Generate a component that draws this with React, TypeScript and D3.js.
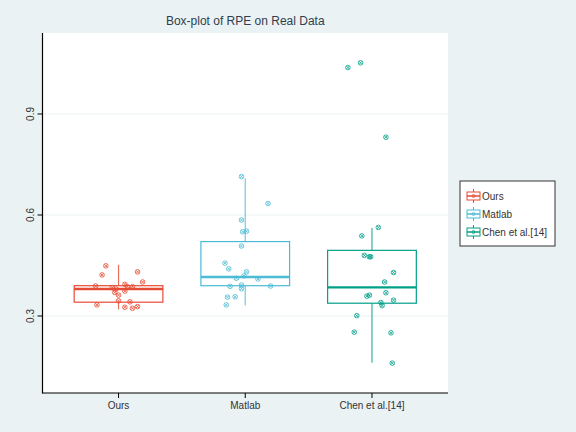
import * as d3 from 'd3';
import React from 'react';

const categories = ["Ours", "Matlab", "Chen et al.[14]"];
const colours = ["#E64B35", "#4DBBD5", "#00A087"];

// box statistics
const whiskerLow = [0.320, 0.331, 0.161];
const q1 = [0.341, 0.390, 0.338];
const median = [0.380, 0.416, 0.385];
const q3 = [0.390, 0.521, 0.495];
const whiskerHigh = [0.452, 0.709, 0.561];

// jittered points: [offset in category steps, RPE]
const oursPoints: [number, number][] = [
  [-0.10, 0.449], [-0.13, 0.422], [0.15, 0.431], [0.19, 0.401], [-0.18, 0.389],
  [-0.05, 0.384], [-0.02, 0.380], [0.05, 0.394], [0.07, 0.387], [0.11, 0.387],
  [-0.03, 0.370], [0.00, 0.362], [0.05, 0.374], [0.00, 0.345], [-0.17, 0.333],
  [0.09, 0.342], [0.05, 0.326], [0.11, 0.323], [0.15, 0.328]
];
const matlabPoints: [number, number][] = [
  [-0.03, 0.714], [0.18, 0.634], [-0.03, 0.585], [-0.02, 0.550], [0.01, 0.552],
  [-0.03, 0.508], [-0.16, 0.457], [-0.13, 0.440], [0.01, 0.431], [-0.01, 0.419],
  [-0.07, 0.412], [0.10, 0.410], [-0.03, 0.392], [-0.03, 0.381], [-0.12, 0.388],
  [0.20, 0.389], [-0.14, 0.356], [-0.08, 0.357], [-0.15, 0.333]
];
const chenPoints: [number, number][] = [
  [-0.19, 1.038], [-0.09, 1.052], [0.11, 0.831], [0.05, 0.563], [-0.08, 0.538],
  [-0.06, 0.480], [-0.02, 0.476], [-0.01, 0.476], [0.17, 0.429], [0.10, 0.401],
  [0.11, 0.369], [-0.04, 0.359], [-0.02, 0.362], [0.17, 0.347], [0.07, 0.340],
  [0.08, 0.331], [-0.12, 0.301], [-0.14, 0.252], [0.15, 0.250], [0.16, 0.160]
];
const points = [oursPoints, matlabPoints, chenPoints];
const yTicks = [0.3, 0.6, 0.9];

const W = 576, H = 432;
const left = 42.5, right = 448, top = 33, bottom = 393;
const font = "'Liberation Sans', Arial, sans-serif";

const Marker = ({cx, cy, c}: {cx: number, cy: number, c: string}) => (
  <g stroke={c} fill="none" strokeWidth={0.8}>
    <circle cx={cx} cy={cy} r={2.3} />
    <line x1={cx - 1.5} y1={cy - 1.5} x2={cx + 1.5} y2={cy + 1.5} />
    <line x1={cx - 1.5} y1={cy + 1.5} x2={cx + 1.5} y2={cy - 1.5} />
  </g>
);

export default function App() {
  const x = d3.scalePoint<string>().domain(categories).range([left, right]).padding(0.6);
  const y = d3.scaleLinear().domain([0.0713, 1.1405]).range([bottom, top]);
  const step = x.step();
  const boxW = step * 0.7;

  return (
    <svg width={W} height={H} style={{position: "absolute", left: 0, top: 0}}>
      <rect width={W} height={H} fill="#EAF2F3" />
      <rect x={left} y={top} width={right - left} height={bottom - top} fill="#ffffff" />
      {yTicks.map(t => (
        <line key={t} x1={left} x2={right} y1={y(t)} y2={y(t)} stroke="#EAF2F3" strokeWidth={1.2} />
      ))}
      <text x={(left + right) / 2} y={24.5} textAnchor="middle" fontFamily={font} fontSize={12} fill="#2e3e4e">
        Box-plot of RPE on Real Data
      </text>

      {categories.map((c, i) => {
        const cx = x(c)!;
        const col = colours[i];
        return (
          <g key={c}>
            <line x1={cx} x2={cx} y1={y(whiskerHigh[i])} y2={y(q3[i])} stroke={col} strokeOpacity={0.8} strokeWidth={1.2} />
            <line x1={cx} x2={cx} y1={y(q1[i])} y2={y(whiskerLow[i])} stroke={col} strokeOpacity={0.8} strokeWidth={1.2} />
            <rect x={cx - boxW / 2} y={y(q3[i])} width={boxW} height={y(q1[i]) - y(q3[i])}
                  fill="#ffffff" stroke={col} strokeWidth={1.2} />
            <line x1={cx - boxW / 2} x2={cx + boxW / 2} y1={y(median[i])} y2={y(median[i])} stroke={col} strokeWidth={2.4} />
            {points[i].map(([j, v], k) => (
              <Marker key={k} cx={cx + j * step} cy={y(v)} c={col} />
            ))}
          </g>
        );
      })}

      {/* axes */}
      <line x1={left} x2={left} y1={top} y2={bottom + 0.5} stroke="#000" strokeWidth={1.2} />
      <line x1={left} x2={right} y1={bottom} y2={bottom} stroke="#000" strokeWidth={1.2} />
      {yTicks.map(t => (
        <g key={t}>
          <line x1={left - 5} x2={left} y1={y(t)} y2={y(t)} stroke="#000" strokeWidth={1} />
          <text transform={`translate(${left - 9},${y(t)}) rotate(-90)`} textAnchor="middle"
                fontFamily={font} fontSize={10} fill="#333">{t.toFixed(1)}</text>
        </g>
      ))}
      {categories.map(c => (
        <g key={c}>
          <line x1={x(c)} x2={x(c)} y1={bottom} y2={bottom + 5} stroke="#000" strokeWidth={1} />
          <text x={x(c)} y={bottom + 16} textAnchor="middle" fontFamily={font} fontSize={10} fill="#333">{c}</text>
        </g>
      ))}

      {/* legend */}
      <rect x={460} y={181} width={95} height={65} fill="#ffffff" stroke="#333" strokeWidth={1} />
      {categories.map((c, i) => {
        const ly = 196 + i * 18;
        const col = colours[i];
        return (
          <g key={c}>
            <line x1={473.5} x2={473.5} y1={ly - 7} y2={ly + 7} stroke={col} strokeWidth={1} />
            <rect x={467} y={ly - 4} width={13} height={8} fill="#fff" stroke={col} strokeWidth={1} />
            <line x1={467} x2={480} y1={ly} y2={ly} stroke={col} strokeWidth={1.5} />
            <circle cx={473.5} cy={ly} r={1.5} fill="none" stroke={col} strokeWidth={0.8} />
            <text x={482} y={ly + 3.5} fontFamily={font} fontSize={10} fill="#333">{c}</text>
          </g>
        );
      })}
    </svg>
  );
}
